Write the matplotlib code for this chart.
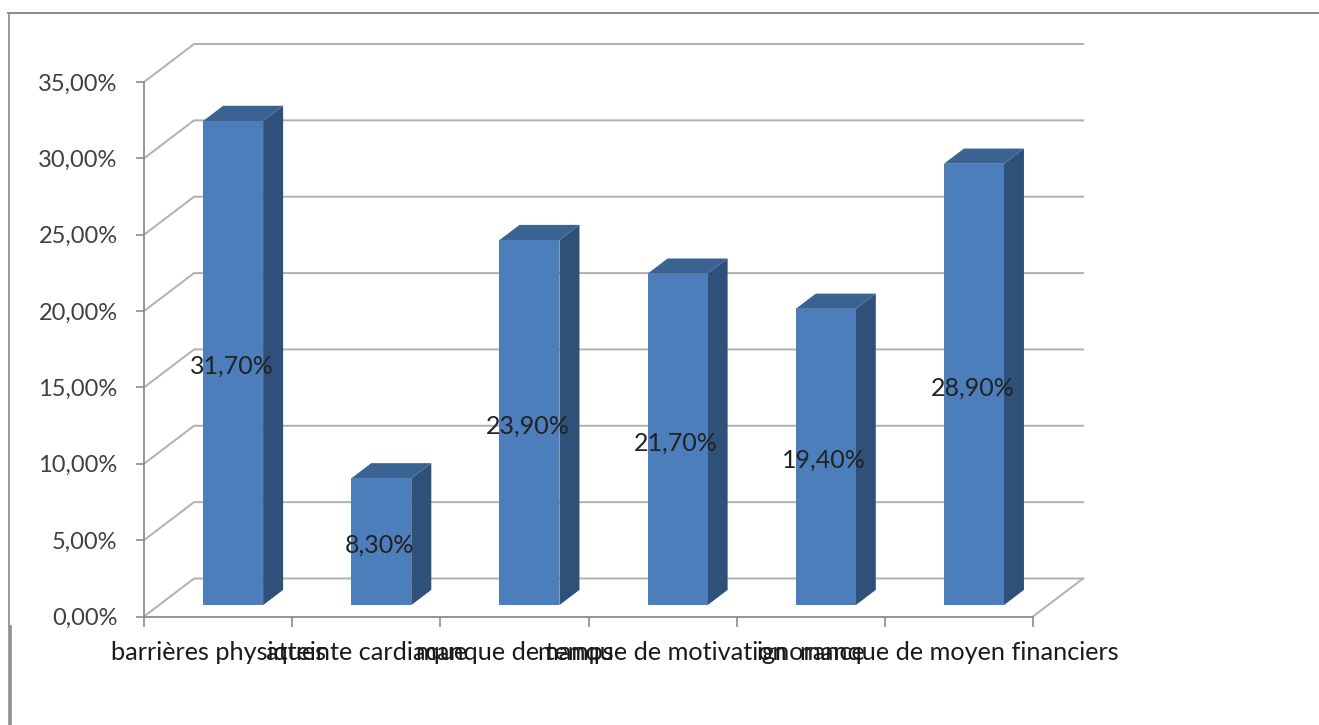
import numpy as np
import matplotlib.pyplot as plt
from matplotlib.lines import Line2D

categories = ["barrières physiques", "atteinte cardiaque", "manque de temps",
              "manque de motivation", "ignorance", "manque de moyen financiers"]
values = [31.7, 8.3, 23.9, 21.7, 19.4, 28.9]
yticks = [0, 5, 10, 15, 20, 25, 30, 35]

W, H = 1319, 725
GRID = "#b0b0b0"
AXIS = "#8c8c8c"

plt.rcParams['font.family'] = 'Lato'

# oblique depth: z=1 is the back wall
DX = 50 / 148
DY = 38 / 15.27
def proj(x, y, z):
    return x + z * DX, y + z * DY

fig = plt.figure(figsize=(W / 100, H / 100), dpi=100)
ax = fig.add_axes([144 / W, (H - 616.5) / H, 889 / W, 534.5 / H])
ax.set_xlim(0, 6)
ax.set_ylim(0, 35)
ax.patch.set_visible(False)
for s in ["top", "right"]:
    ax.spines[s].set_visible(False)
for s in ["left", "bottom"]:
    ax.spines[s].set_color(AXIS)
    ax.spines[s].set_linewidth(1.3)

ax.set_yticks(yticks)
ax.set_yticklabels([f"{v:.2f}%".replace(".", ",") for v in yticks],
                   fontsize=17, color="#404040")
ax.tick_params(axis="y", length=6, width=1.2, color=AXIS, pad=13)
ax.set_xticks(range(7))
ax.set_xticklabels([])
ax.tick_params(axis="x", which="major", length=7, width=1.2, color=AXIS)
ax.set_xticks(np.arange(len(categories)) + 0.5, minor=True)
ax.set_xticklabels(categories, minor=True, fontsize=18.2, color="#1a1a1a")
ax.tick_params(axis="x", which="minor", length=0, pad=17.5)

# back wall and side wall lines
for v in yticks:
    pts = [proj(0, v, 0), proj(0, v, 1), proj(6, v, 1)]
    ax.plot(*zip(*pts), color=GRID, lw=1.4, clip_on=False, zorder=1)
ax.plot(*zip(proj(6, 0, 0), proj(6, 0, 1)), color=GRID, lw=1.4, clip_on=False, zorder=1)

# bars as three faces each
bw = 0.405
z0, z1 = 0.3, 0.7
for i, v in enumerate(values):
    x0 = i + 0.5 - bw / 2
    x1 = i + 0.5 + bw / 2
    side = [proj(x1, 0, z0), proj(x1, 0, z1), proj(x1, v, z1), proj(x1, v, z0)]
    top = [proj(x0, v, z0), proj(x1, v, z0), proj(x1, v, z1), proj(x0, v, z1)]
    front = [proj(x0, 0, z0), proj(x1, 0, z0), proj(x1, v, z0), proj(x0, v, z0)]
    ax.fill(*zip(*side), color="#2f5179", lw=0, clip_on=False, zorder=3)
    ax.fill(*zip(*top), color="#3a6292", lw=0, clip_on=False, zorder=3)
    ax.fill(*zip(*front), color="#4c7ebb", lw=0, clip_on=False, zorder=3)
    lx, ly = proj(i + 0.5, v / 2, z0)
    ax.annotate(f"{v:.2f}%".replace(".", ","), (lx, ly), xytext=(-1, -2.5),
                textcoords="offset points", ha="center", va="center",
                fontsize=18, color="#222222", zorder=4)

# outer frame, only top and left are visible
fig.add_artist(Line2D([8 / W, 1], [1 - 13 / H, 1 - 13 / H], color="#808080", lw=1.3))
fig.add_artist(Line2D([8.5 / W, 8.5 / W], [1 - 13 / H, 1 - 627 / H], color="#909090", lw=1.3))
fig.add_artist(Line2D([9.5 / W, 9.5 / W], [1 - 627 / H, 0], color="#909090", lw=2.6))

fig.savefig("out.png", dpi=100)
